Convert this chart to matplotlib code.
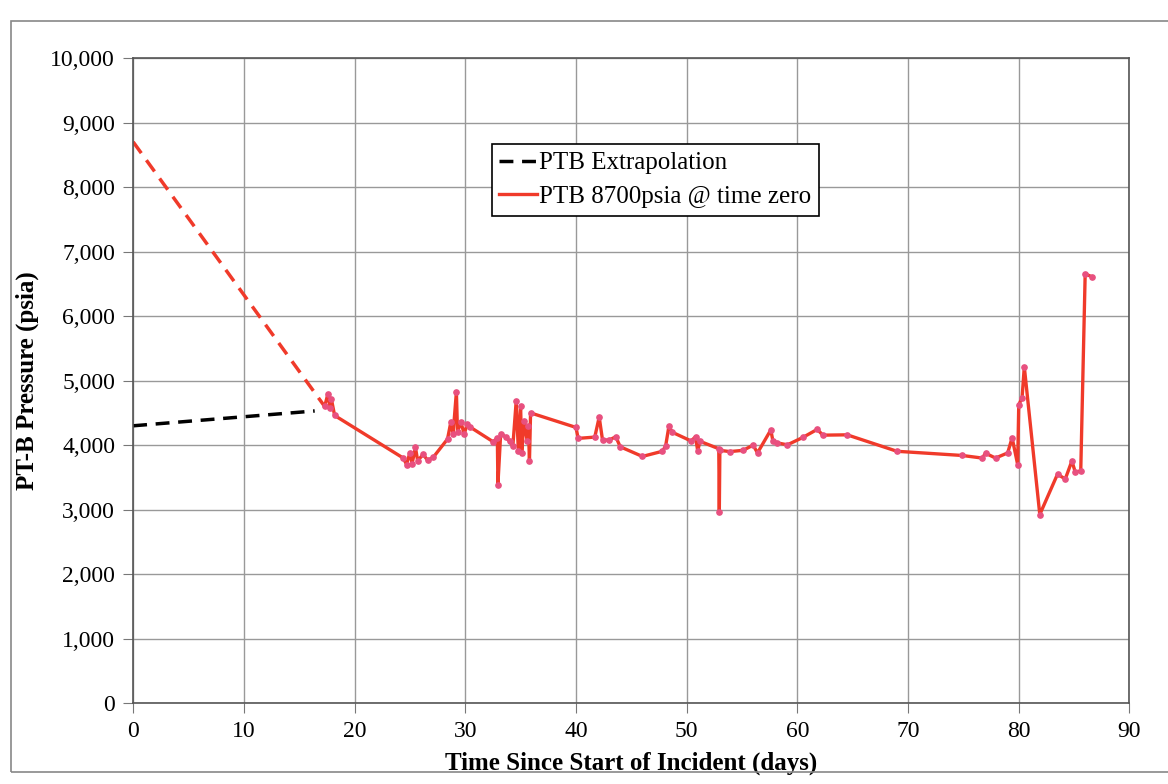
import numpy as np
import matplotlib.pyplot as plt
from matplotlib.patches import Rectangle

plt.rcParams['font.family'] = ['Liberation Serif', 'DejaVu Serif']

# extrapolation lines (days, psia)
extrap_days = [0, 16.4]
extrap_psi = [4300, 4530]
zero_days = [0, 17.3]
zero_psi = [8700, 4600]

# measured PT-B pressure (days, psia)
days = [17.3, 17.6, 17.8, 17.9, 18.2, 24.4, 24.7, 25.0, 25.2, 25.5, 25.7, 26.2, 26.6, 27.1,
        28.4, 28.7, 28.9, 29.2, 29.3, 29.6, 29.9, 30.2, 30.4, 32.5, 32.9, 32.95, 33.2, 33.7,
        34.0, 34.3, 34.6, 34.8, 35.0, 35.1, 35.3, 35.6, 35.7, 35.8, 35.9, 40.0, 40.2, 41.7,
        42.1, 42.4, 43.0, 43.6, 44.0, 46.0, 47.8, 48.1, 48.4, 48.7, 50.4, 50.8, 51.0, 51.2,
        52.9, 52.95, 53.0, 53.9, 55.1, 56.0, 56.4, 57.6, 57.8, 58.2, 59.1, 60.5, 61.8, 62.3,
        64.5, 69.0, 74.9, 76.7, 77.0, 77.9, 79.0, 79.4, 79.9, 80.0, 80.3, 80.5, 81.9, 83.5,
        84.2, 84.8, 85.1, 85.6, 86.0, 86.6]
psi = [4600, 4800, 4570, 4720, 4460, 3800, 3700, 3885, 3715, 3965, 3760, 3856, 3765, 3810,
       4095, 4360, 4170, 4825, 4205, 4360, 4175, 4330, 4285, 4055, 4105, 3390, 4180, 4120,
       4060, 3985, 4680, 3905, 4605, 3875, 4375, 4060, 4295, 3755, 4500, 4275, 4105, 4125,
       4435, 4080, 4080, 4130, 3975, 3825, 3905, 3985, 4295, 4200, 4065, 4130, 3910, 4060,
       3945, 2970, 3920, 3900, 3920, 4000, 3880, 4235, 4060, 4035, 4005, 4120, 4245, 4155,
       4160, 3905, 3840, 3800, 3875, 3800, 3880, 4115, 3700, 4625, 4735, 5215, 2925, 3550,
       3475, 3755, 3585, 3600, 6655, 6610]

x_ticks = np.arange(0, 91, 10)
y_ticks = np.arange(0, 10001, 1000)

fig = plt.figure(figsize=(11.68, 7.84), dpi=100)
ax = fig.add_axes([0.114, 0.103, 0.853, 0.823])

ax.plot(extrap_days, extrap_psi, color='black', linestyle=(0, (4, 2.5)), linewidth=2.5,
        label='PTB Extrapolation')
ax.plot(zero_days, zero_psi, color='#f03a2a', linestyle=(0, (4, 2.5)), linewidth=2.5)
ax.plot(days, psi, color='#f03a2a', linewidth=2.4, label='PTB 8700psia @ time zero')
# dense logged samples show up pinkish
ax.plot(days, psi, linestyle='none', marker='o', markersize=3.8,
        markerfacecolor='#e8507f', markeredgecolor='#e8507f')

ax.set_xlim(0, 90)
ax.set_ylim(0, 10000)
ax.set_xticks(x_ticks)
ax.set_yticks(y_ticks)
ax.set_yticklabels([f'{v:,}' for v in y_ticks])
ax.tick_params(direction='out', length=7, color='#777777', labelsize=17, pad=6)
ax.grid(True, color='#999999', linewidth=1)
ax.set_axisbelow(True)
for s in ax.spines.values():
    s.set_color('#555555')
    s.set_linewidth(1.2)

ax.set_xlabel('Time Since Start of Incident (days)', fontsize=18, fontweight='bold', labelpad=7)
ax.set_ylabel('PT-B Pressure (psia)', fontsize=18, fontweight='bold', labelpad=8)

leg = ax.legend(loc='upper left', bbox_to_anchor=(0.36, 0.866), fontsize=18,
                fancybox=False, edgecolor='black', framealpha=1, handlelength=1.5,
                handletextpad=0.1, borderpad=0.3, labelspacing=0.45, borderaxespad=0)
leg.get_frame().set_linewidth(1.2)

# outer frame of the scanned page (right edge runs off the page)
fig.patches.append(Rectangle((0.009, 0.015), 1.05, 0.958, transform=fig.transFigure,
                             fill=False, edgecolor='#888888', linewidth=1.2))

fig.savefig('out.png', dpi=100)
